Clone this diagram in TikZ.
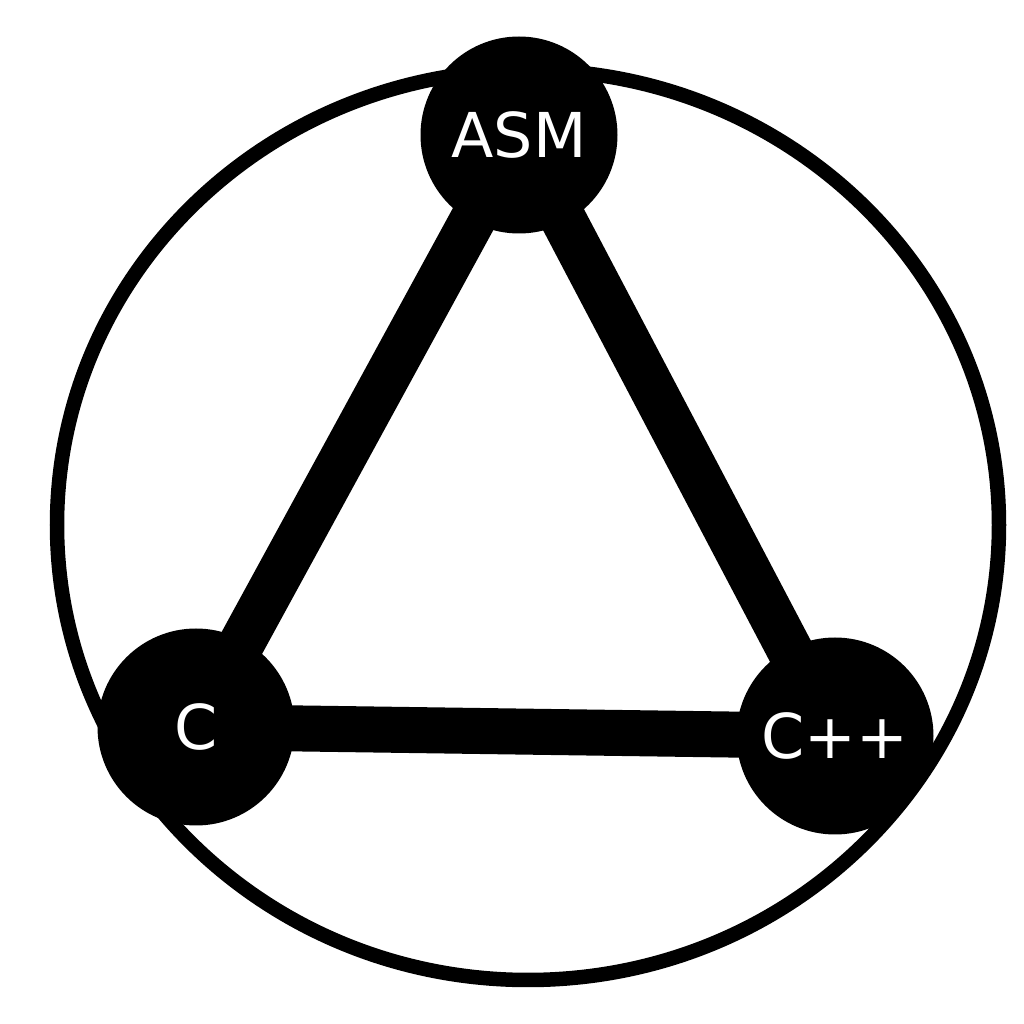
\documentclass[tikz,border=0pt]{standalone}
\usepackage{fontspec}
\setmainfont{DejaVu Sans}
\usetikzlibrary{backgrounds}
\tikzset{
  lang/.style={circle,fill=black,text=white,minimum size=1.97cm,inner sep=0pt,
               font=\fontsize{17.6}{20}\selectfont},
  link/.style={line width=0.46cm},
  ring/.style={line width=0.145cm},
}

\begin{document}
\begin{tikzpicture}
  \useasboundingbox (0,0) rectangle (10.24,10.24);
  \node[lang] (asm) at (5.19,8.89) {ASM};
  \node[lang] (c)   at (1.96,2.97) {C};
  \node[lang] (cpp) at (8.35,2.88) {C++};
  \begin{scope}[on background layer]
    \draw[ring] (5.28,4.99) ellipse [x radius=4.71, y radius=4.55];
    \draw[link] (asm.center) -- (c.center);
    \draw[link] (asm.center) -- (cpp.center);
    \draw[link] (c.center) -- (cpp.center);
  \end{scope}
\end{tikzpicture}
\end{document}
